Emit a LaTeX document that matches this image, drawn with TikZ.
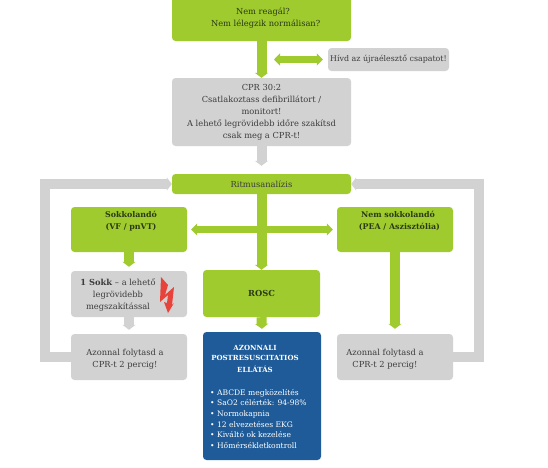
\documentclass[tikz,border=0pt]{standalone}
\usepackage{fontspec}
\setmainfont{DejaVu Serif}
\usetikzlibrary{arrows.meta,calc}
\definecolor{gr}{HTML}{9FCB2F}
\definecolor{gy}{HTML}{D2D2D2}
\definecolor{bl}{HTML}{1E5B98}
\definecolor{tx}{HTML}{3C3C3C}
\definecolor{dk}{HTML}{2C3A14}
\definecolor{bolt}{HTML}{E8433A}
\tikzset{
 x=1pt,y=-1pt,
 boxg/.style={fill=gr,rounded corners=3.5pt,inner sep=0pt},
 boxy/.style={fill=gy,rounded corners=3.5pt,inner sep=0pt},
 boxb/.style={fill=bl,rounded corners=3.5pt,inner sep=0pt},
 txt/.style={align=center,font=\fontsize{8.3}{12}\selectfont,text=tx,inner sep=0pt},
 txb/.style={align=center,font=\fontsize{8.3}{12.5}\selectfont\bfseries,text=dk,inner sep=0pt},
 fat/.style={line width=10pt},
 arg/.style={fat,draw=gr,-{Triangle[width=13pt,length=5pt]}},
 ary/.style={fat,draw=gy,-{Triangle[width=13pt,length=5pt]}},
 dbl/.style={line width=7pt,draw=gr,{Triangle[width=12pt,length=6pt]}-{Triangle[width=12pt,length=6pt]}},
}
\begin{document}
\begin{tikzpicture}
\useasboundingbox (0,0) rectangle (548,467);
\clip (0,0) rectangle (548,467);
\fill[white] (0,0) rectangle (548,467);
% boxes
\node[boxg,minimum width=179pt,minimum height=71pt] (top) at (261.5,5.5) {};
\node[boxy,minimum width=121pt,minimum height=23pt,txt,font=\fontsize{7.9}{12}\selectfont] (hivd) at (388.5,59.5) {Hívd az újraélesztő csapatot!};
\node[boxy,minimum width=179pt,minimum height=68pt,txt] (cpr) at (261.5,112) {CPR 30:2\\Csatlakoztass defibrillátort /\\monitort!\\A lehető legrövidebb időre szakítsd\\csak meg a CPR-t!};
\node[boxg,minimum width=179pt,minimum height=20pt,txt] (rit) at (261.5,184) {Ritmusanalízis};
\node[boxg,minimum width=116pt,minimum height=45pt] (sok) at (129,229.5) {};
\node[boxg,minimum width=116pt,minimum height=45pt] (nem) at (395,229.5) {};
\node[boxy,minimum width=116pt,minimum height=46pt] (egy) at (129,294) {};
\node[boxg,minimum width=117pt,minimum height=47pt,txb] (rosc) at (261.5,293.5) {ROSC};
\node[boxy,minimum width=116pt,minimum height=46pt] (azl) at (129,357) {};
\node[boxy,minimum width=116pt,minimum height=46pt] (azr) at (395,357) {};
\node[boxb,minimum width=118pt,minimum height=128pt] (blu) at (262,396) {};
% texts
\node[txt,text=dk] (t1) at (263,18) {Nem reagál?\\\ \ Nem lélegzik normálisan?};
\node[txb,font=\fontsize{7.9}{12.3}\selectfont\bfseries] (t2) at (131,221) {Sokkolandó\\(VF / pnVT)};
\node[txb,font=\fontsize{7.9}{12.3}\selectfont\bfseries] (t3) at (398,221) {Nem sokkolandó\\\ (PEA / Aszisztólia)};
\node[txt] (t4) at (118,295) {\textbf{1 Sokk} – a lehető\\legrövidebb\\megszakítással};
\node[txt] (t5) at (125,359) {Azonnal folytasd a\\CPR-t 2 percig!};
\node[txt] (t8) at (385,359) {Azonnal folytasd a\\CPR-t 2 percig!};
\node[txb,text=white,font=\fontsize{7}{10}\selectfont\bfseries] (t6) at (255,359) {AZONNALI\\POSTRESUSCITATIOS\\[2pt]ELLÁTÁS};
\node[txt,text=white,align=left,anchor=north west,font=\fontsize{7.6}{10.6}\selectfont] (t7) at (210,389) {• ABCDE megközelítés\\• SaO2 célérték: 94-98\%\\• Normokapnia\\• 12 elvezetéses EKG\\• Kiváltó ok kezelése\\• Hőmérsékletkontroll};
% connectors
\coordinate (stem) at (262,59.5);
\draw[arg] (top.south) -- (cpr.north);
\draw[dbl,shorten <=12pt,shorten >=5pt] (stem) -- (hivd.west);
\draw[ary] (cpr.south) -- ($(rit.north)+(0,-8)$);
\draw[arg] (rit.south) -- (rosc.north);
\draw[dbl,shorten <=4pt,shorten >=4pt] (sok.east) -- (nem.west);
\draw[arg,shorten >=4pt] (sok.south) -- (egy.north);
\draw[ary,shorten >=4pt] (egy.south) -- (azl.north);
\draw[arg,shorten >=5pt] (nem.south) -- (azr.north);
\draw[arg,shorten >=3pt] (rosc.south) -- (blu.north);
\draw[ary] (azl.west) -- ++(-25.5,0) |- (rit.west);
\draw[ary] (azr.east) -- ++(26,0) |- (rit.east);
% bolt
\fill[bolt] (161,277) -- (168,285) -- (165,295) -- (174,287) -- (172,305) -- (174,303) -- (168,313) -- (164,302) -- (167,303) -- (168,295) -- (160,302) -- cycle;
\end{tikzpicture}
\end{document}
